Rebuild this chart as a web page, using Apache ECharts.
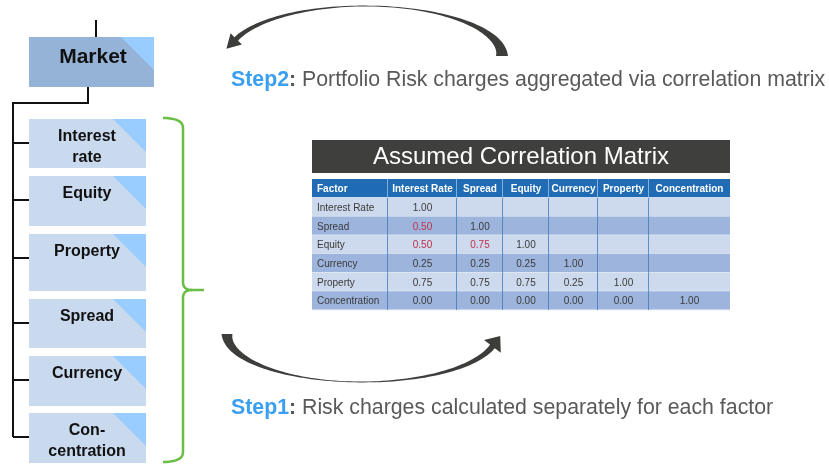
<!DOCTYPE html>
<html>
<head>
<meta charset="utf-8">
<script src="https://cdn.jsdelivr.net/npm/echarts@6/dist/echarts.min.js"></script>
<style>
  html, body { margin: 0; background: #fff; }
  #chart { width: 829px; height: 466px; }
</style>
</head>
<body>
<div id="chart"></div>
<script>
// data
const factors = ['Interest Rate', 'Spread', 'Equity', 'Currency', 'Property', 'Concentration'];
const headerLabels = ['Factor', ...factors];
const correlations = [
  [1.00],
  [0.50, 1.00],
  [0.50, 0.75, 1.00],
  [0.25, 0.25, 0.25, 1.00],
  [0.75, 0.75, 0.75, 0.25, 1.00],
  [0.00, 0.00, 0.00, 0.00, 0.00, 1.00]
];
const highlighted = ['1-0', '2-0', '2-1'];
const rootLabel = 'Market';
const boxLabels = ['Interest\nrate', 'Equity', 'Property', 'Spread', 'Currency', 'Con-\ncentration'];
const tableTitle = 'Assumed Correlation Matrix';
const step1 = ['Step1', 'Risk charges calculated separately for each factor'];
const step2 = ['Step2', 'Portfolio Risk charges aggregated via correlation matrix'];

// layout
const FONT = '"Liberation Sans", Arial, sans-serif';
const COL_EDGES = [0, 76, 145, 191, 237, 286, 337, 418];
const BOX_TOPS = [119, 176, 234, 299, 356, 413];
const BOX_HEIGHTS = [49, 50, 57, 49, 50, 50];

const cells = [];
headerLabels.forEach((h, c) => cells.push([c, 0, h, 0]));
factors.forEach((f, i) => {
  cells.push([0, i + 1, f, 0]);
  for (let j = 0; j < factors.length; j++) {
    const v = correlations[i][j];
    cells.push([j + 1, i + 1, v == null ? '' : v.toFixed(2), highlighted.includes(i + '-' + j) ? 1 : 0]);
  }
});

function renderCell(params, api) {
  const cell = cells[params.dataIndex];
  const c = cell[0], r = cell[1];
  const p0 = api.coord([COL_EDGES[c], r]);
  const p1 = api.coord([COL_EDGES[c + 1], r]);
  const h = api.size([0, 1])[1];
  const x = p0[0], y = p0[1] - h / 2, w = p1[0] - p0[0];
  const isHead = r === 0;
  const fill = isHead ? '#1f6bb4' : (r % 2 ? '#cdd9ec' : '#9db4dc');
  const children = [
    { type: 'rect', shape: { x, y, width: w, height: h }, style: { fill } },
    { type: 'line', shape: { x1: x, y1: y + h, x2: x + w, y2: y + h }, style: { stroke: '#eef3fa', lineWidth: 1 } }
  ];
  if (c < headerLabels.length - 1) {
    children.push({ type: 'line', shape: { x1: x + w, y1: y, x2: x + w, y2: y + h },
      style: { stroke: isHead ? '#a9c6e8' : '#3a76bd', lineWidth: 1.5 } });
  }
  if (cell[2]) {
    children.push({ type: 'text', style: {
      text: cell[2], x: c === 0 ? x + 5 : x + w / 2, y: y + h / 2 + 1,
      align: c === 0 ? 'left' : 'center', verticalAlign: 'middle',
      font: (isHead ? 'bold ' : '') + '10px ' + FONT,
      fill: isHead ? '#fff' : (cell[3] ? '#c0304a' : '#3a3a3a')
    } });
  }
  return { type: 'group', children };
}

// tapered curved arrow along an ellipse
function arcArrow(cx, cy, rx, ry, a0, a1, widthAt, headL, headW) {
  const n = 80, L = [], R = [];
  let pEnd, tEnd;
  for (let i = 0; i <= n; i++) {
    const s = i / n, a = a0 + (a1 - a0) * s;
    const p = [cx + rx * Math.cos(a), cy - ry * Math.sin(a)];
    let t = [-rx * Math.sin(a), -ry * Math.cos(a)];
    const len = Math.hypot(t[0], t[1]);
    t = [t[0] / len, t[1] / len];
    const nr = [-t[1], t[0]];
    const w = widthAt(s) / 2;
    L.push([p[0] + nr[0] * w, p[1] + nr[1] * w]);
    R.push([p[0] - nr[0] * w, p[1] - nr[1] * w]);
    pEnd = p; tEnd = t;
  }
  const nr = [-tEnd[1], tEnd[0]];
  const head = [
    [pEnd[0] + nr[0] * headW / 2, pEnd[1] + nr[1] * headW / 2],
    [pEnd[0] + tEnd[0] * headL, pEnd[1] + tEnd[1] * headL],
    [pEnd[0] - nr[0] * headW / 2, pEnd[1] - nr[1] * headW / 2]
  ];
  return L.concat(head, R.reverse());
}

function taper(w0, sMin, w1) {
  return s => s < sMin ? 0.8 + (w0 - 0.8) * Math.pow(1 - s / sMin, 2.2)
                       : 0.8 + (w1 - 0.8) * Math.pow((s - sMin) / (1 - sMin), 1.3);
}

function quad(p0, c, p1, n = 10) {
  const pts = [];
  for (let i = 0; i <= n; i++) {
    const t = i / n, u = 1 - t;
    pts.push([u * u * p0[0] + 2 * u * t * c[0] + t * t * p1[0], u * u * p0[1] + 2 * u * t * c[1] + t * t * p1[1]]);
  }
  return pts;
}

const deg = Math.PI / 180;
const graphics = [];
const line = pts => ({ type: 'polyline', shape: { points: pts }, style: { stroke: '#111', lineWidth: 2, fill: null } });

// tree lines
graphics.push(line([[96, 20], [96, 37]]));
graphics.push(line([[88, 87], [88, 103], [13, 103], [13, 437]]));
BOX_TOPS.forEach(t => graphics.push(line([[13, t + 24], [29, t + 24]])));

// root box
graphics.push({ type: 'rect', shape: { x: 29, y: 37, width: 125, height: 50 }, style: { fill: '#95b3d7' } });
graphics.push({ type: 'polygon', shape: { points: [[121, 37], [154, 37], [154, 70]] }, style: { fill: '#99ccff' } });
graphics.push({ type: 'text', style: { text: rootLabel, x: 93, y: 57, align: 'center', verticalAlign: 'middle',
  font: 'bold 21px ' + FONT, fill: '#111' } });

// factor boxes
boxLabels.forEach((lab, i) => {
  const t = BOX_TOPS[i], h = BOX_HEIGHTS[i];
  graphics.push({ type: 'rect', shape: { x: 29, y: t, width: 117, height: h }, style: { fill: '#c9d9ee' } });
  graphics.push({ type: 'polygon', shape: { points: [[113, t], [146, t], [146, t + 33]] }, style: { fill: '#99ccff' } });
  graphics.push({ type: 'text', style: { text: lab, x: 87, y: t + 7, align: 'center', verticalAlign: 'top',
    lineHeight: 21, font: 'bold 16px ' + FONT, fill: '#111' } });
});

// brace
const brace = { stroke: '#6abd45', lineWidth: 2.5, fill: null };
graphics.push({ type: 'polyline', shape: { points: [].concat(
  quad([163, 118], [183, 118], [183, 128]), [[183, 282]], quad([183, 282], [183, 290], [192, 290]), [[204, 290]]) }, style: brace });
graphics.push({ type: 'polyline', shape: { points: [].concat(
  quad([192, 290], [183, 290], [183, 298]), [[183, 452]], quad([183, 452], [183, 462], [163, 462])) }, style: brace });

// arrows
graphics.push({ type: 'polygon', shape: { points: arcArrow(365, 56, 137, 50, 0, 160 * deg, taper(12, 0.56, 5), 14, 16) },
  style: { fill: '#3d3d3b' } });
graphics.push({ type: 'polygon', shape: { points: arcArrow(362, 334, 135, 48, 180 * deg, 345 * deg, taper(11, 0.55, 6), 13, 21) },
  style: { fill: '#3d3d3b' } });

// step captions
const stepRich = {
  a: { font: 'bold 21.3px ' + FONT, fill: '#3a9ff0' },
  c: { font: 'bold 21.3px ' + FONT, fill: '#555' },
  b: { font: '21.3px ' + FONT, fill: '#595959' }
};
[[step2, 80], [step1, 408]].forEach(([s, y]) => {
  graphics.push({ type: 'text', style: { text: '{a|' + s[0] + '}{c|:}{b| ' + s[1] + '}', rich: stepRich,
    x: 231, y, verticalAlign: 'middle' } });
});

// table title bar
graphics.push({ type: 'rect', shape: { x: 312, y: 140, width: 418, height: 33 }, style: { fill: '#3f3f3d' } });
graphics.push({ type: 'text', style: { text: tableTitle, x: 521, y: 157, align: 'center', verticalAlign: 'middle',
  font: '24px ' + FONT, fill: '#fff' } });

const chart = echarts.init(document.getElementById('chart'));
chart.setOption({
  animation: false,
  backgroundColor: '#fff',
  grid: { left: 312, top: 179, width: 418, height: 131 },
  xAxis: { type: 'value', min: 0, max: COL_EDGES[COL_EDGES.length - 1], show: false },
  yAxis: { type: 'category', data: headerLabels, inverse: true, show: false },
  graphic: graphics,
  series: [{
    type: 'custom',
    renderItem: renderCell,
    data: cells.map(c => [c[0], c[1]]),
    encode: { x: 0, y: 1 },
    silent: true
  }]
});
window.addEventListener('resize', () => chart.resize());
</script>
</body>
</html>
